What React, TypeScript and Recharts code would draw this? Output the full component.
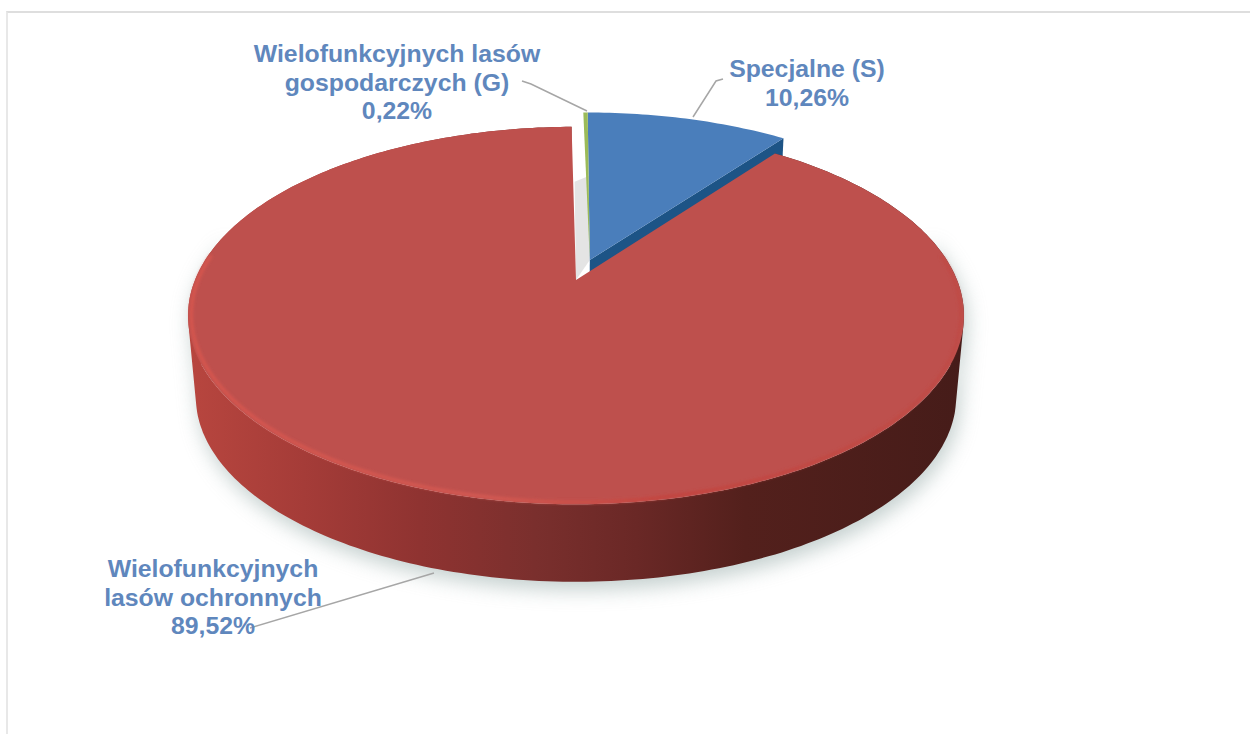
import { Pie, PieChart, Cell } from "recharts";

const names = [
  "Specjalne (S)",
  "Wielofunkcyjnych lasów ochronnych",
  "Wielofunkcyjnych lasów gospodarczych (G)",
];
const shares = [10.26, 89.52, 0.22];
const labelRows = [
  ["Specjalne (S)"],
  ["Wielofunkcyjnych", "lasów ochronnych"],
  ["Wielofunkcyjnych lasów", "gospodarczych (G)"],
];

const tableData = names.map((name, i) => ({ name, value: shares[i] }));

const topColors = ["#4a7ebb", "#be504d", "#9bbb59"];
const sideColors = ["#1d5486", "#7a2c2a", "#6f8a3c"];

// camera: far side of the disc is drawn smaller
const TILT = 0.478;
const PERSPECTIVE = 0.188;
const DEPTH = 82;
const BOTTOM_SCALE = 0.98;
const EXPLODE = { x: 0.037, y: 0.112 };
const CX = 576;
const CY = 280;
const RADIUS = 381;

const labelLayout = [
  { x: 807, y: 77, lead: [[693, 117], [716, 81], [723, 79]] },
  { x: 213, y: 577, lead: [[434, 573], [250, 628]] },
  { x: 397, y: 62, lead: [[587, 111], [531, 84], [522, 81]] },
];

function project(x: number, y: number, depth = 0, shift = { x: 0, y: 0 }) {
  const px = x + shift.x;
  const py = y + shift.y;
  const w = 1 + PERSPECTIVE * py;
  const s = 1 - (1 - BOTTOM_SCALE) * depth;
  return [
    CX + (RADIUS * px * s) / w,
    CY - (RADIUS * TILT * py * s) / w + DEPTH * depth,
  ];
}

function arc(start: number, end: number, depth = 0, shift = { x: 0, y: 0 }, r = 1) {
  const pts: number[][] = [];
  const steps = Math.max(4, Math.ceil(Math.abs(end - start)));
  for (let i = 0; i <= steps; i++) {
    const a = ((start + ((end - start) * i) / steps) * Math.PI) / 180;
    pts.push(project(r * Math.cos(a), r * Math.sin(a), depth, shift));
  }
  return pts;
}

const toPath = (pts: number[][], close = true) =>
  "M" + pts.map((p) => `${p[0].toFixed(1)} ${p[1].toFixed(1)}`).join("L") + (close ? "Z" : "");

// side wall as one path of same-winding quads, so their union fills out to the silhouette
function wallPath(top: number[][], low: number[][]) {
  const quads: string[] = [];
  for (let i = 0; i < top.length - 1; i++) {
    const q = [top[i], top[i + 1], low[i + 1], low[i]];
    let area = 0;
    q.forEach((p, k) => {
      const n = q[(k + 1) % 4];
      area += p[0] * n[1] - n[0] * p[1];
    });
    quads.push(toPath(area < 0 ? q.slice().reverse() : q));
  }
  return quads.join("");
}

function SliceShape(props: any) {
  const { startAngle, endAngle, payload } = props;
  const index = names.indexOf(payload?.name ?? props.name);
  const exploded = index !== 1;
  const shift = exploded ? EXPLODE : { x: 0, y: 0 };
  const rim = arc(startAngle, endAngle, 0, shift);
  const rimLow = arc(startAngle, endAngle, 1, shift);
  const apex = project(0, 0, 0, shift);
  const apexLow = project(0, 0, 1, shift);
  const face = toPath([apex, ...rim]);

  if (index === 2) {
    // thin sliver, its sides stay behind the big slice
    return <path d={face} fill={topColors[2]} />;
  }
  if (index === 0) {
    // first slice painted, so the ground shadow and the gap go here
    const end = rim[rim.length - 1];
    const endLow = rimLow[rimLow.length - 1];
    return (
      <g>
        <defs>
          <filter id="pieShadow" x="-10%" y="-10%" width="120%" height="120%">
            <feGaussianBlur stdDeviation="10" />
          </filter>
        </defs>
        <path
          d={wallPath(arc(165, 375), arc(165, 375, 1))}
          transform="translate(3 8)"
          fill="#a4b6b4"
          opacity={0.65}
          filter="url(#pieShadow)"
        />
        <path
          d={toPath([
            project(0, 0),
            project(-0.004, 0.6),
            project(EXPLODE.x, 0.64),
            project(EXPLODE.x, EXPLODE.y),
          ])}
          fill="#e4e4e4"
        />
        <path d={toPath([apex, end, endLow, apexLow])} fill={sideColors[0]} />
        <path d={face} fill={topColors[0]} />
      </g>
    );
  }

  return (
    <g>
      <defs>
        <filter id="rimBlur" x="-5%" y="-5%" width="110%" height="110%">
          <feGaussianBlur stdDeviation="1.4" />
        </filter>
        <linearGradient id="wallFill" gradientUnits="userSpaceOnUse" x1="187" y1="0" x2="962" y2="0">
          <stop offset="0%" stopColor="#b8463f" />
          <stop offset="15%" stopColor="#a53c38" />
          <stop offset="30%" stopColor="#8f3331" />
          <stop offset="45%" stopColor="#7a2f2d" />
          <stop offset="58%" stopColor="#6a2826" />
          <stop offset="72%" stopColor="#53201c" />
          <stop offset="100%" stopColor="#461c19" />
        </linearGradient>
        <linearGradient id="rimFill" gradientUnits="userSpaceOnUse" x1="187" y1="0" x2="962" y2="0">
          <stop offset="0%" stopColor="#d9564e" />
          <stop offset="40%" stopColor="#d65a52" />
          <stop offset="62%" stopColor="#c4423c" />
          <stop offset="100%" stopColor="#bf4a45" />
        </linearGradient>
      </defs>
      <path d={wallPath(rim, rimLow)} fill="url(#wallFill)" />
      <path d={face} fill={topColors[1]} />
      <path
        d={toPath(arc(172, 368, 0, { x: 0, y: 0 }, 0.992), false)}
        fill="none"
        stroke="url(#rimFill)"
        strokeWidth={3}
        filter="url(#rimBlur)"
      />
    </g>
  );
}

function SliceLabel(props: any) {
  const index = names.indexOf(props.name ?? props.payload?.name);
  const place = labelLayout[index];
  if (!place) return null;
  const rows = [...labelRows[index], `${shares[index].toFixed(2).replace(".", ",")}%`];
  return (
    <g>
      <path d={toPath(place.lead, false)} fill="none" stroke="#a6a6a6" strokeWidth={1.5} />
      <text
        x={place.x}
        y={place.y}
        textAnchor="middle"
        fontFamily="'Liberation Sans', Arial, sans-serif"
        fontWeight="bold"
        fontSize={24.8}
        fill="#5f87bd"
      >
        {rows.map((row, i) => (
          <tspan key={i} x={place.x} dy={i === 0 ? 0 : 28.5}>
            {row}
          </tspan>
        ))}
      </text>
    </g>
  );
}

export default function App() {
  return (
    <div
      style={{
        position: "absolute",
        left: 0,
        top: 0,
        width: 1250,
        height: 734,
        background: "#fff",
        overflow: "hidden",
      }}
    >
      <div
        style={{
          position: "absolute",
          left: 6,
          top: 11,
          width: 1244,
          height: 723,
          boxSizing: "border-box",
          borderTop: "2px solid #dedede",
          borderLeft: "2px solid #e8e8e8",
        }}
      />
      <div style={{ position: "absolute", left: 0, top: 0 }}>
        <PieChart width={1250} height={734} margin={{ top: 0, right: 0, bottom: 0, left: 0 }}>
          <Pie
            data={tableData}
            dataKey="value"
            nameKey="name"
            cx={CX}
            cy={CY}
            innerRadius={0}
            outerRadius={RADIUS}
            startAngle={90}
            endAngle={-270}
            stroke="none"
            shape={SliceShape}
            label={SliceLabel}
            labelLine={false}
            isAnimationActive={false}
          >
            {tableData.map((d, i) => (
              <Cell key={d.name} fill={topColors[i]} />
            ))}
          </Pie>
        </PieChart>
      </div>
    </div>
  );
}
